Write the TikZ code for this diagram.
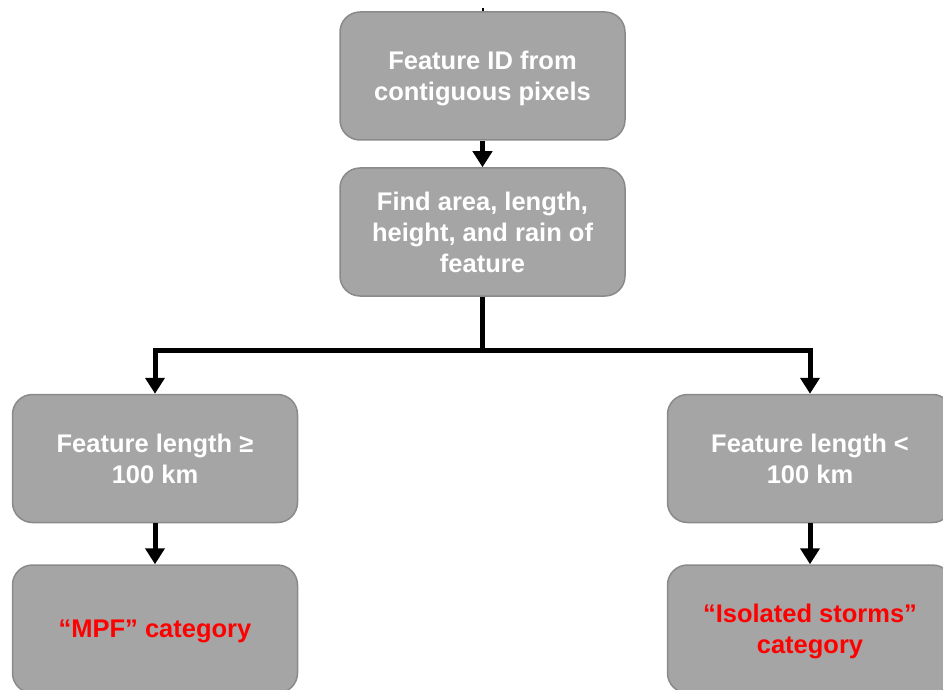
\documentclass[tikz,border=0pt]{standalone}
\usepackage{fontspec}
\setmainfont{Liberation Sans}
\usetikzlibrary{positioning, calc, arrows.meta}

\definecolor{boxgray}{HTML}{A5A5A5}
\definecolor{boxedge}{HTML}{8A8A8A}
\definecolor{catred}{HTML}{FF0000}

\tikzset{
    stepbox/.style={draw=boxedge, line width=1.5pt, fill=boxgray, rounded corners=20pt,
                    minimum width=285pt, minimum height=128pt, align=center, text depth=0pt,
                    text=white, font=\fontsize{25.5}{31}\selectfont\bfseries},
    catbox/.style={stepbox, text=catred},
    flow/.style={line width=5pt, -{Triangle[width=19pt,length=16pt]}}
}

\begin{document}
\begin{tikzpicture}[x=1pt, y=-1pt]
        \clip (0,0) rectangle (943,690);
        \useasboundingbox (0,0) rectangle (943,690);

        % 1. Processing steps (top column)
        \node[stepbox] (featid) at (482.5, 76) {Feature ID from\\contiguous pixels};
        \node[stepbox] (findattr) at (482.5, 232) {Find area, length,\\height, and rain of\\feature};

        % 2. Length test branches
        \node[stepbox] (longlen) at (155, 458.5) {Feature length ≥\\100 km};
        \node[stepbox] (shortlen) at (810, 458.5) {Feature length <\\100 km};

        % 3. Resulting categories
        \node[catbox] (mpfcat) at (155, 629) {“MPF” category};
        \node[catbox] (isocat) at (810, 629) {“Isolated storms”\\category};

        % 4. Connectors
        \coordinate (stub) at (482.5, 8);
        \draw[line width=2pt] (stub) -- (featid.north);
        \draw[flow] (featid.south) -- (findattr.north);
        \coordinate (split) at ($(findattr.south)+(0,54)$);
        \draw[line width=5pt] (findattr.south) -- (split);
        \draw[flow] (split) -| (longlen.north);
        \draw[flow] (split) -| (shortlen.north);
        \draw[flow] (longlen.south) -- (mpfcat.north);
        \draw[flow] (shortlen.south) -- (isocat.north);

    \end{tikzpicture}
\end{document}
